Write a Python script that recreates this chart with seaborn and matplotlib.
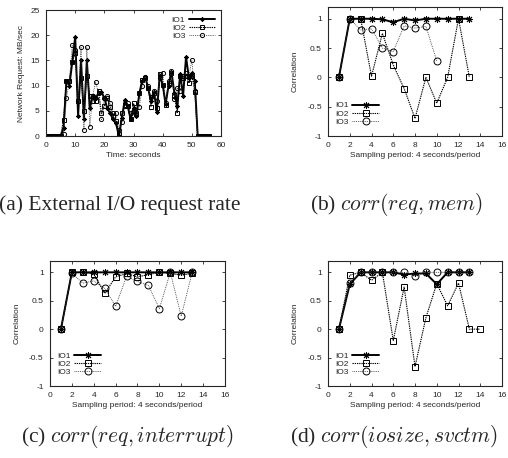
import numpy as np
import pandas as pd
import seaborn as sns
import matplotlib.pyplot as plt
from matplotlib.ticker import MultipleLocator

# panel (a): external I/O request rate, MB/sec, one sample per second
time_a = list(range(57))
io1_a = [0, 0, 0, 0, 0, 0, 1.5, 11, 10, 14.7, 19.7, 4, 15, 3.3, 15, 5.5, 8, 7.5, 8.5, 8.8,
         7.5, 5.5, 4.5, 3.3, 2.5, 0, 3.5, 7.2, 6, 3.3, 5.5, 4, 8.5, 11, 11.8, 9.5, 7, 8.8,
         4.8, 12, 10.2, 6.3, 10, 12.8, 8.5, 6, 12.3, 8, 15.7, 11.5, 12.5, 11, 0, 0, 0, 0, 0]
io2_a = [0, 0, 0, 0, 0, 0, 3.2, 11, 11, 14.7, 16.5, 7, 11.5, 5, 12, 8, 7, 7, 9, 4.5,
         6, 7.5, 5.8, 4, 3, 0.5, 4.5, 6.2, 6, 3.3, 6.5, 4.5, 8.5, 11.2, 11.5, 9.5, 5.8, 8.5,
         5.5, 12.4, 10.2, 6.2, 10.5, 12.5, 8, 4.5, 12, 11.5, 12, 10.5, 12, 8.8, 0, 0, 0, 0, 0]
io3_a = [0, 0, 0, 0, 0, 0, 0.5, 7.5, 11, 18, 17, 7, 17.6, 1.2, 17.6, 1.8, 8, 10.7, 8.5, 3.3,
         7.5, 8, 6.5, 4.5, 4.5, 1.2, 2.8, 6, 6.5, 4.5, 5, 4.2, 5.8, 10, 11.8, 10, 7.8, 9,
         7, 11.5, 12.6, 6.5, 11, 13, 7.3, 9.6, 9, 12, 12.5, 12, 15, 9, 0, 0, 0, 0, 0]

# panel (b): corr(req, mem)
io1_b = [0, 1, 1, 1, 0.99, 0.94, 1, 0.97, 1, 1, 1, 1, 1]
io2_b = [0, 1, 1, 0.02, 0.75, 0.21, -0.19, -0.7, 0, -0.44, 0, 1, 0]
io3_b = [0, 1, 0.81, 0.83, 0.5, 0.44, 0.88, 0.84, 0.87, 0.28]

# panel (c): corr(req, interrupt)
io1_c = [0, 1, 1, 1, 1, 1, 1, 1, 1, 1, 1, 1, 1]
io2_c = [0, 1, 1, 0.97, 0.63, 0.92, 0.98, 0.92, 0.96, 1, 0.98, 0.95, 0.98]
io3_c = [0, 0.98, 0.81, 0.85, 0.72, 0.4, 0.93, 0.84, 0.77, 0.36, 1, 0.23, 1]

# panel (d): corr(iosize, svctm)
io1_d = [0, 0.79, 1, 1, 1, 1, 0.96, 0.98, 0.98, 0.79, 1, 1, 1]
io2_d = [0, 0.95, 1, 0.86, 1, -0.2, 0.74, -0.66, 0.2, 0.8, 0.41, 0.81, 0, 0]
io3_d = [0, 0.82, 1, 1, 1, 1, 1, 0.94, 1, 1, 1, 1, 1]

captions = ["(a) External I/O request rate", "(b) $corr(req, mem)$",
            "(c) $corr(req, interrupt)$", "(d) $corr(iosize, svctm)$"]

sns.set_style("ticks")
plt.rcParams['font.family'] = ['Liberation Sans', 'DejaVu Sans']
plt.rcParams['mathtext.fontset'] = 'cm'
plt.rcParams['axes.unicode_minus'] = False

fig = plt.figure(figsize=(5.08, 4.58), dpi=100)
ax_a = fig.add_axes([0.0906, 0.703, 0.3445, 0.275])
ax_b = fig.add_axes([0.6457, 0.703, 0.3425, 0.2817])
ax_c = fig.add_axes([0.0984, 0.1572, 0.3445, 0.273])
ax_d = fig.add_axes([0.6457, 0.1572, 0.3425, 0.273])

# line style per series: (marker, dashes, linewidth, colour)
styles = {
    'IO1': ((8, 2, 0), None, 1.4, 'black'),
    'IO2': ('s', (1.2, 0.8), 0.8, 'black'),
    'IO3': ('o', (1.0, 1.2), 0.6, '#333333'),
}


def draw(ax, series, msize):
    for name, vals in series.items():
        marker, dash, lw, col = styles[name]
        df = pd.DataFrame({'x': vals[0], 'y': vals[1]})
        sns.lineplot(data=df, x='x', y='y', ax=ax, color=col, lw=lw,
                     marker=marker, markersize=msize, mfc='none', mec='black',
                     mew=0.7, label=name)
        if dash:
            ax.lines[-1].set_dashes(dash)


draw(ax_a, {'IO1': (time_a, io1_a), 'IO2': (time_a, io2_a), 'IO3': (time_a, io3_a)}, 3.0)
ax_a.set_xlim(0, 60)
ax_a.set_ylim(0, 25)
ax_a.xaxis.set_major_locator(MultipleLocator(10))
ax_a.yaxis.set_major_locator(MultipleLocator(5))
ax_a.set_xlabel("Time: seconds", fontsize=6, labelpad=2)
ax_a.set_ylabel("Network Request: MB/sec", fontsize=6, labelpad=4)
ax_a.legend(loc='upper right', fontsize=6, frameon=False, markerfirst=False,
            labelspacing=0.05, handlelength=3.2, handletextpad=0.4, borderaxespad=0.3)

for ax, ys in [(ax_b, (io1_b, io2_b, io3_b)), (ax_c, (io1_c, io2_c, io3_c)),
               (ax_d, (io1_d, io2_d, io3_d))]:
    series = {n: (list(range(1, len(v) + 1)), v) for n, v in zip(['IO1', 'IO2', 'IO3'], ys)}
    draw(ax, series, 5.0)
    ax.set_xlim(0, 16)
    ax.set_ylim(-1, 1.2)
    ax.xaxis.set_major_locator(MultipleLocator(2))
    ax.set_yticks([-1, -0.5, 0, 0.5, 1])
    ax.set_yticklabels(['-1', '-0.5', '0', '0.5', '1'])
    ax.set_xlabel("Sampling period: 4 seconds/period", fontsize=6, labelpad=2)
    ax.set_ylabel("Correlation", fontsize=6, labelpad=6)
    ax.legend(loc='lower left', fontsize=6, frameon=False, markerfirst=False,
              labelspacing=0.05, handlelength=3.2, handletextpad=0.4,
              bbox_to_anchor=(0.0, 0.02))

for ax in [ax_a, ax_b, ax_c, ax_d]:
    ax.tick_params(direction='in', top=True, right=True, labelsize=6,
                   length=2.5, width=0.6, pad=4.5)
    for s in ax.spines.values():
        s.set_linewidth(0.8)
        s.set_visible(True)

cap_pos = [(120, 205), (397, 205), (127, 437), (394, 437)]
for (px, py), cap in zip(cap_pos, captions):
    fig.text(px / 508, 1 - py / 458, cap, ha='center', va='center',
             fontsize=15.5, family='Liberation Serif')

fig.savefig('out.png', dpi=100)
